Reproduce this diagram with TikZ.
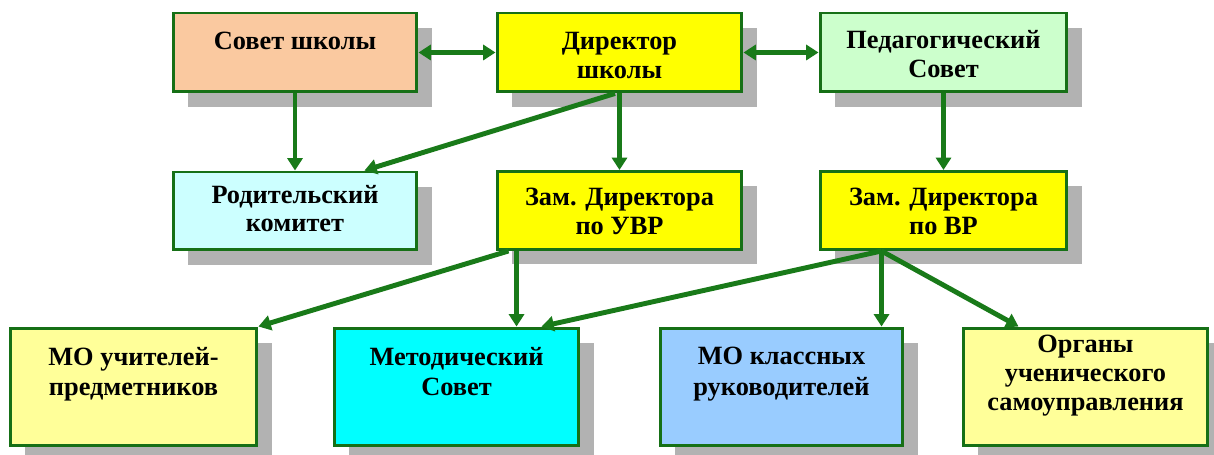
\documentclass[tikz,border=0pt]{standalone}
\usepackage{fontspec}
\setmainfont{Liberation Serif}
\usetikzlibrary{arrows.meta,shadows,calc}
\definecolor{edgec}{RGB}{25,122,25}
\definecolor{bordc}{RGB}{22,112,22}
\definecolor{peach}{RGB}{250,201,160}
\definecolor{yel}{RGB}{255,255,0}
\definecolor{lgreen}{RGB}{204,255,204}
\definecolor{lcyan}{RGB}{204,255,255}
\definecolor{lyel}{RGB}{255,255,153}
\definecolor{cyanc}{RGB}{0,255,255}
\definecolor{lblue}{RGB}{153,204,255}
\definecolor{shadowc}{RGB}{178,178,178}
\begin{document}
\begin{tikzpicture}[x=0.02cm,y=-0.02cm,
  box/.style={draw=bordc, line width=1.7pt, rectangle, inner sep=0pt,
    drop shadow={shadow xshift=0.3cm, shadow yshift=-0.3cm, fill=shadowc, opacity=1}},
  top/.style={box, minimum height=1.58cm},
  mid/.style={box, minimum height=1.56cm},
  bot/.style={box, minimum height=2.36cm},
  txt/.style={anchor=north, yshift=-0.4cm, align=center, inner sep=0pt,
    font=\fontsize{15}{16.5}\selectfont\bfseries, text=black},
  btxt/.style={txt, font=\fontsize{15}{17.5}\selectfont\bfseries},
  arr/.style={draw=edgec, line width=2.8pt, -{Triangle[length=7pt,width=8.5pt]}},
  darr/.style={draw=edgec, line width=2.8pt, {Triangle[length=7pt,width=8.5pt]}-{Triangle[length=7pt,width=8.5pt]}}
]
\fill[white] (0,0) rectangle (1214,455);
\useasboundingbox (0,0) rectangle (1214,455);

% top row
\node[top, fill=peach, minimum width=4.88cm,
  label={[txt]north:Совет школы}] (sovet) at (295,52.5) {};
\node[top, fill=yel, minimum width=4.9cm,
  label={[txt]north:{Директор\\школы}}] (dir) at (619.5,52.5) {};
\node[top, fill=lgreen, minimum width=4.94cm,
  label={[txt, yshift=0.02cm]north:{Педагогический\\Совет}}] (ped) at (943.5,52.5) {};

% middle row
\node[mid, fill=lcyan, minimum width=4.88cm,
  label={[txt, yshift=0.12cm]north:{Родительский\\комитет}}] (rod) at (295,211) {};
\node[mid, fill=yel, minimum width=4.9cm,
  label={[txt, yshift=0.04cm]north:{Зам. Директора\\по УВР}}] (zuvr) at (619.5,210.5) {};
\node[mid, fill=yel, minimum width=4.94cm,
  label={[txt, yshift=0.04cm]north:{Зам. Директора\\по ВР}}] (zvr) at (943.5,210.5) {};

% bottom row
\node[bot, fill=lyel, minimum width=4.94cm,
  label={[btxt]north:{МО учителей-\\предметников}}] (mou) at (133.5,387) {};
\node[bot, fill=cyanc, minimum width=4.9cm,
  label={[btxt]north:{Методический\\Совет}}] (met) at (456.5,387) {};
\node[bot, fill=lblue, minimum width=4.86cm,
  label={[btxt]north:{МО классных\\руководителей}}] (mok) at (781.5,387) {};
\node[bot, fill=lyel, minimum width=4.9cm,
  label={[txt, yshift=0.24cm]north:{Органы\\ученического\\самоуправления}}] (org) at (1085.5,387) {};

% connectors
\draw[darr] (sovet.east) -- (sovet.east -| dir.west);
\draw[darr] (dir.east) -- (dir.east -| ped.west);
\draw[arr] (sovet.south) -- (rod.north);
\draw[arr] ($(dir.south)+(-4.5,0)$) -- ($(rod.north east)+(-54,0)$);
\draw[arr] (dir.south) -- (zuvr.north);
\draw[arr] (ped.south) -- (zvr.north);
\coordinate (uvrA) at ($(zuvr.south west)+(13,0)$);
\coordinate (uvrB) at ($(zuvr.south west)+(21,0)$);
\draw[arr] (uvrA) -- (mou.north east);
\draw[arr] (uvrB) -- (uvrB |- met.north);
\coordinate (vrfoot) at ($(zvr.south west)+(63,0)$);
\draw[arr] (vrfoot) -- ($(met.north west)+(209,0)$);
\draw[arr] (vrfoot) -- (vrfoot |- mok.north);
\draw[arr] (vrfoot) -- ($(org.north west)+(57,0)$);
\end{tikzpicture}
\end{document}
